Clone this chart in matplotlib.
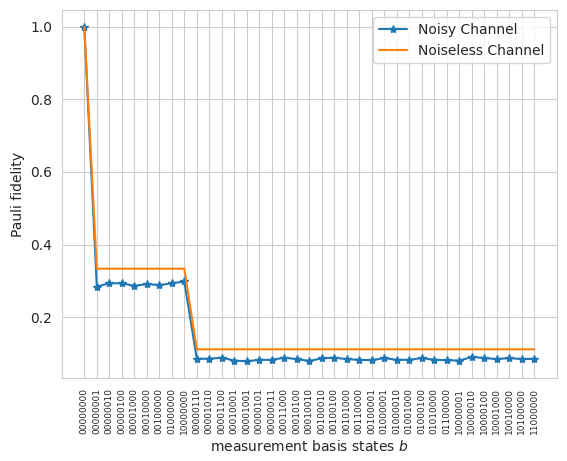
import numpy as np
import matplotlib
matplotlib.use("Agg")
import matplotlib.pyplot as plt
import seaborn as sns

sns.set_style("whitegrid")

# measurement basis states (order as shown on the axis)
states = ["00000000",
          "00000001", "00000010", "00000100", "00001000",
          "00010000", "00100000", "01000000", "10000000",
          "00000110", "00001010", "00001100", "00010001",
          "00001001", "00000101", "00000011", "00011000",
          "00010100", "00010010", "00100010", "00100100",
          "00101000", "00110000", "00100001", "01000001",
          "01000010", "01001000", "01000100", "01010000",
          "01100000", "10000001", "10000010", "10000100",
          "10001000", "10010000", "10100000", "11000000"]

noisy = [1.0,
         0.284, 0.293, 0.293, 0.286, 0.291, 0.288, 0.293, 0.298,
         0.085, 0.085, 0.088, 0.080, 0.078, 0.082, 0.082, 0.088,
         0.084, 0.079, 0.086, 0.088, 0.084, 0.082, 0.081, 0.087,
         0.082, 0.082, 0.087, 0.082, 0.081, 0.080, 0.090, 0.087,
         0.084, 0.087, 0.084, 0.085]

noiseless = [1.0] + [1 / 3] * 8 + [1 / 9] * 28

x = np.arange(len(states))

fig, ax = plt.subplots(figsize=(5.67, 4.61), dpi=100)
fig.subplots_adjust(left=0.109, right=0.982, bottom=0.18, top=0.978)

ax.plot(x, noisy, marker="*", label="Noisy Channel")
ax.plot(x, noiseless, label="Noiseless Channel")

ax.set_xticks(x)
ax.set_xticklabels(states, rotation=90, fontsize=6.5)
ax.set_xlabel("measurement basis states $b$")
ax.set_ylabel("Pauli fidelity")
ax.legend(loc="upper right")

fig.savefig("out.png")
